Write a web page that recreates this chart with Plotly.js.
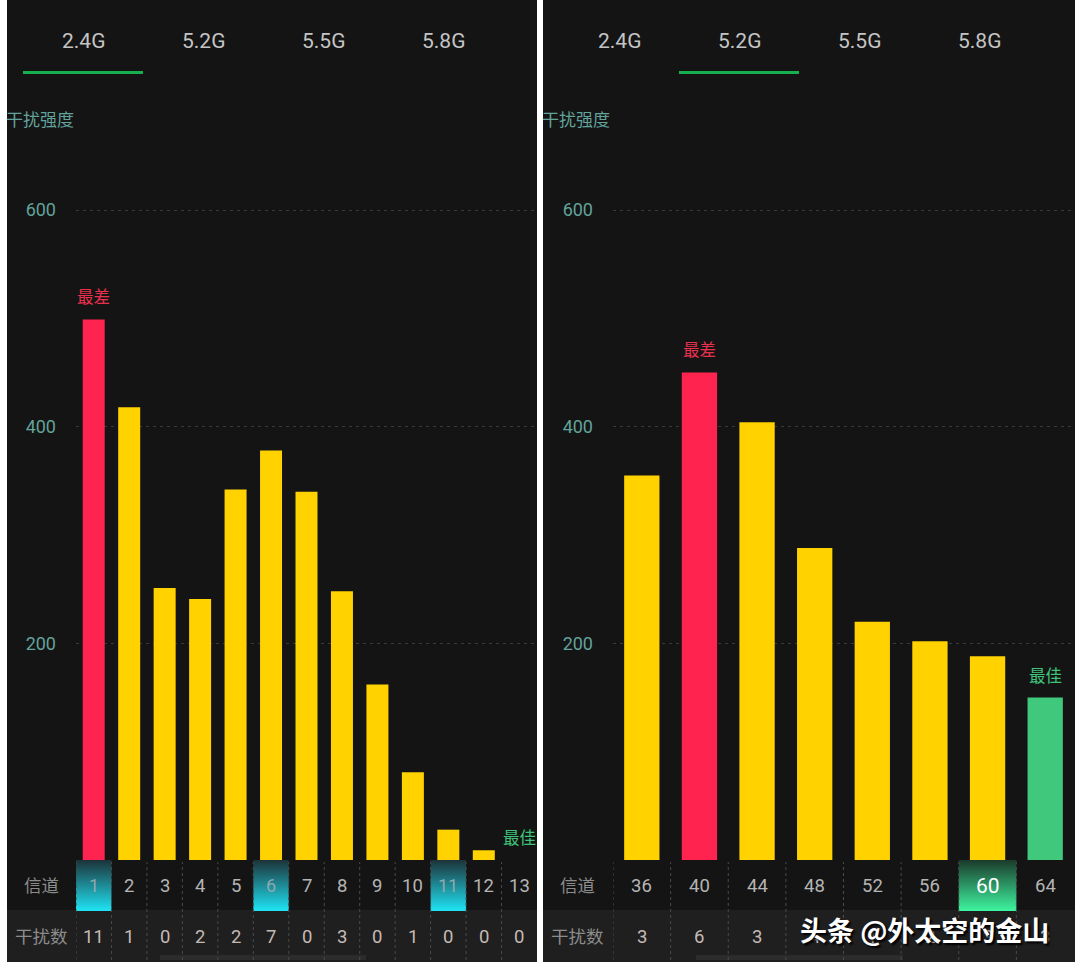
<!DOCTYPE html>
<html><head><meta charset="utf-8">
<script src="https://cdn.plot.ly/plotly-3.0.1.min.js"></script>
<style>html,body{margin:0;padding:0;background:#fff;}#chart{width:1080px;height:968px;}</style>
</head><body><div id="chart"></div>
<script>
// ---- data ----
const bandTabs = ['2.4G', '5.2G', '5.5G', '5.8G'];
const leftChannels = [1, 2, 3, 4, 5, 6, 7, 8, 9, 10, 11, 12, 13];
const leftStrength = [499, 418, 251, 241, 342, 378, 340, 248, 162, 81, 28, 9, 0];
const leftCounts = [11, 1, 0, 2, 2, 7, 0, 3, 0, 1, 0, 0, 0];
const leftMarked = [1, 6, 11];
const rightChannels = [36, 40, 44, 48, 52, 56, 60, 64];
const rightStrength = [355, 450, 404, 288, 220, 202, 188, 150];
const rightCounts = [3, 6, 3, 4, 1, 2, 3, 3];
const rightMarked = [60];
const yTicks = [200, 400, 600];
const yTitle = '干扰强度';
const rowLabels = ['信道', '干扰数'];
const worstLabel = '最差', bestLabel = '最佳';
const watermark = '头条 @外太空的金山';

// ---- style ----
const W = 1080, H = 968;
const px = x => x / W, py = y => 1 - y / H;
const FONT = 'Roboto, "Noto Sans CJK SC", sans-serif';
const PANEL_BG = '#141414', ROW2_BG = '#1f1f1f';
const YELLOW = '#ffd200', RED = '#ff2450', GREEN = '#40c97c';
const TEAL = '#62a39b';

const panels = [
  {x0: 7, x1: 537, dom: [76, 537], channels: leftChannels, strength: leftStrength, counts: leftCounts,
   marked: leftMarked, step: 1, barW: 0.62, active: 0, xa: 'x', ya: 'y', ta: 'y3',
   markLo: '#1c3238', markHi: '#1fe4f5', markText: '#8fa9ad', markSize: 18, scroll: [160, 366]},
  {x0: 543, x1: 1075, dom: [613, 1074], channels: rightChannels, strength: rightStrength, counts: rightCounts,
   marked: rightMarked, step: 4, barW: 2.45, active: 1, xa: 'x2', ya: 'y2', ta: 'y4',
   markLo: '#1b3a2b', markHi: '#3ef5a0', markText: '#ffffff', markSize: 21, scroll: [696, 903]}
];

const traces = [], shapes = [], annotations = [];
const yMax = 730 * 600 / 650;

const layout = {
  width: W, height: H, margin: {l: 0, r: 0, t: 0, b: 0},
  paper_bgcolor: '#ffffff', plot_bgcolor: 'rgba(0,0,0,0)', showlegend: false,
  font: {family: FONT},
  shapes, annotations
};

panels.forEach((p, pi) => {
  const sfx = pi === 0 ? '' : '2';
  const tsfx = pi === 0 ? '3' : '4';
  const half = p.step / 2;
  layout['xaxis' + sfx] = {domain: [px(p.dom[0]), px(p.dom[1])],
    range: [p.channels[0] - half, p.channels[p.channels.length - 1] + half],
    anchor: 'y' + sfx, showticklabels: false, showgrid: false, zeroline: false, showline: false, ticks: '', fixedrange: true};
  layout['yaxis' + sfx] = {domain: [py(860), py(130)], range: [0, yMax], anchor: 'x' + sfx,
    tickvals: yTicks, ticks: '', ticklabelstandoff: 19, showline: false, zeroline: false,
    gridcolor: '#3a3a3a', griddash: '3px,4px', gridwidth: 1,
    tickfont: {size: 18, color: TEAL, family: FONT}, fixedrange: true};
  layout['yaxis' + tsfx] = {domain: [py(962), py(860)], range: [0, 2], anchor: 'x' + sfx, visible: false, fixedrange: true};

  // panel backgrounds
  shapes.push({type: 'rect', xref: 'paper', yref: 'paper', x0: px(p.x0), x1: px(p.x1), y0: py(962), y1: 1,
    fillcolor: PANEL_BG, line: {width: 0}, layer: 'below'});
  shapes.push({type: 'rect', xref: 'paper', yref: 'paper', x0: px(p.x0), x1: px(p.x1), y0: py(962), y1: py(910),
    fillcolor: ROW2_BG, line: {width: 0}, layer: 'below'});
  // scroll indicator
  shapes.push({type: 'rect', xref: 'paper', yref: 'paper', x0: px(p.scroll[0]), x1: px(p.scroll[1]), y0: py(960), y1: py(955),
    fillcolor: '#2c2c2c', line: {width: 0}, layer: 'below'});

  // tabs
  bandTabs.forEach((t, i) => {
    annotations.push({xref: 'paper', yref: 'paper', x: px(p.x0 + 76 + 120 * i), y: py(41), text: t, showarrow: false,
      xanchor: 'center', yanchor: 'middle', font: {size: 21, color: '#c4c4c4', family: FONT}});
  });
  shapes.push({type: 'rect', xref: 'paper', yref: 'paper', x0: px(p.x0 + 16 + 120 * p.active), x1: px(p.x0 + 136 + 120 * p.active),
    y0: py(74), y1: py(71), fillcolor: '#16b04f', line: {width: 0}});

  annotations.push({xref: 'paper', yref: 'paper', x: px(p.x0 - 3), y: py(120), text: yTitle, showarrow: false,
    xanchor: 'left', yanchor: 'middle', font: {size: 17, color: TEAL, family: FONT}});

  // bars
  const maxV = Math.max(...p.strength), minV = Math.min(...p.strength);
  const worstIdx = p.strength.indexOf(maxV), bestIdx = p.strength.indexOf(minV);
  const colors = p.strength.map((v, i) => i === worstIdx ? RED : (i === bestIdx ? GREEN : YELLOW));
  traces.push({type: 'bar', x: p.channels, y: p.strength, width: p.barW, marker: {color: colors, line: {width: 0}},
    xaxis: 'x' + sfx, yaxis: 'y' + sfx, hoverinfo: 'x+y'});
  annotations.push({xref: 'x' + sfx, yref: 'y' + sfx, x: p.channels[worstIdx], y: maxV, text: worstLabel, showarrow: false,
    xanchor: 'center', yanchor: 'bottom', yshift: 10, font: {size: 16.5, color: '#e8304f', family: FONT}});
  annotations.push({xref: 'x' + sfx, yref: 'y' + sfx, x: p.channels[bestIdx], y: minV, text: bestLabel, showarrow: false,
    xanchor: 'center', yanchor: 'bottom', yshift: 10, font: {size: 16.5, color: '#3fc27a', family: FONT}});

  // marked cells
  p.marked.forEach(c => {
    traces.push({type: 'scatter', x: [c - half, c + half, c + half, c - half, c - half], y: [1, 1, 2, 2, 1],
      xaxis: 'x' + sfx, yaxis: 'y' + tsfx, mode: 'none', fill: 'toself', hoverinfo: 'skip',
      fillgradient: {type: 'vertical', start: 1, stop: 2, colorscale: [[0, p.markHi], [1, p.markLo]]}});
  });

  // dashed separators
  p.channels.forEach(c => {
    shapes.push({type: 'line', xref: 'x' + sfx, yref: 'paper', x0: c - half, x1: c - half, y0: py(960), y1: py(862),
      line: {color: '#4a4a4a', width: 1, dash: '3px,3px'}});
  });

  // row labels
  annotations.push({xref: 'paper', yref: 'paper', x: px(p.x0 + 34), y: py(886), text: rowLabels[0], showarrow: false,
    xanchor: 'center', yanchor: 'middle', font: {size: 17.5, color: '#8c8c8c', family: FONT}});
  annotations.push({xref: 'paper', yref: 'paper', x: px(p.x0 + 34), y: py(937), text: rowLabels[1], showarrow: false,
    xanchor: 'center', yanchor: 'middle', font: {size: 17.5, color: '#8c8c8c', family: FONT}});

  // cell texts
  p.channels.forEach((c, i) => {
    const m = p.marked.includes(c);
    annotations.push({xref: 'x' + sfx, yref: 'y' + tsfx, x: c, y: 1.5, text: String(c), showarrow: false,
      xanchor: 'center', yanchor: 'middle',
      font: {size: m ? p.markSize : 18.5, color: m ? p.markText : '#b4b4b4', family: FONT}});
    annotations.push({xref: 'x' + sfx, yref: 'y' + tsfx, x: c, y: 0.5, text: String(p.counts[i]), showarrow: false,
      xanchor: 'center', yanchor: 'middle', font: {size: 18.5, color: '#c6bab5', family: FONT}});
  });
});

annotations.push({xref: 'paper', yref: 'paper', x: px(798), y: py(929), text: '<b>' + watermark + '</b>', showarrow: false,
  xanchor: 'left', yanchor: 'middle',
  font: {size: 27, color: '#ffffff', family: '"Noto Sans CJK SC", sans-serif', shadow: '2px 2px 2px #000'}});

Plotly.newPlot('chart', traces, layout, {displayModeBar: false, staticPlot: true});
</script>
</body></html>
